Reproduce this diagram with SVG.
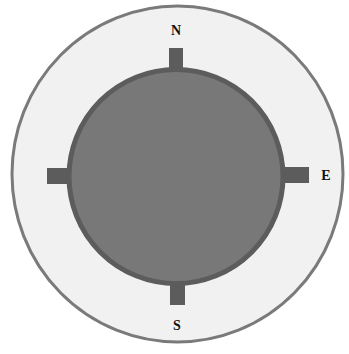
<svg xmlns="http://www.w3.org/2000/svg" width="349" height="354" viewBox="0 0 349 354">
<style>
.lbl{font-family:"Liberation Serif","DejaVu Serif",serif;font-size:14px;font-weight:bold;fill:#111;text-anchor:middle}
.bar{fill:#5c5c5c}
</style>
<rect width="349" height="354" fill="#ffffff"/>
<g id="outer">
<ellipse cx="177.5" cy="174" rx="165.5" ry="168" fill="#f1f1f1" stroke="#7a7a7a" stroke-width="3"/>
</g>
<g id="bars">
<rect class="bar" x="169" y="48" width="14" height="24"/>
<rect class="bar" x="47" y="168" width="24" height="16"/>
<rect class="bar" x="282" y="167" width="27" height="16"/>
<rect class="bar" x="170" y="280" width="15" height="25"/>
</g>
<g id="inner">
<circle cx="176" cy="176.5" r="107" fill="#787878" stroke="#5c5c5c" stroke-width="5"/>
</g>
<g id="labels">
<text class="lbl" x="176" y="35">N</text>
<text class="lbl" x="326" y="180">E</text>
<text class="lbl" x="177" y="330">S</text>
</g>
</svg>
